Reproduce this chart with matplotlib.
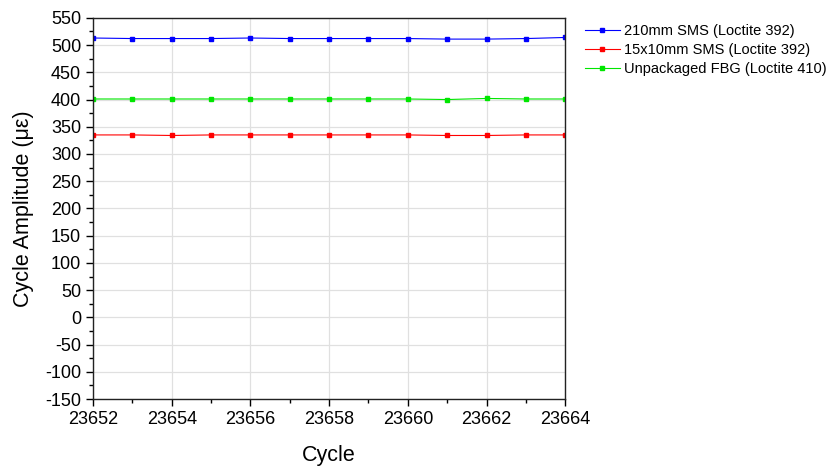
import matplotlib
matplotlib.use('Agg')
import matplotlib.pyplot as plt
import numpy as np
from matplotlib.ticker import MultipleLocator

plt.rcParams['font.family'] = ['Liberation Sans', 'DejaVu Sans']
plt.rcParams['axes.unicode_minus'] = False

cycles = np.arange(23652, 23665)
sms_210 = [513, 512, 512, 512, 513, 512, 512, 512, 512, 511, 511, 512, 514]
sms_15x10 = [335, 335, 334, 335, 335, 335, 335, 335, 335, 334, 334, 335, 335]
fbg_unpackaged = [401, 401, 401, 401, 401, 401, 401, 401, 401, 400, 402, 401, 401]

labels = ['210mm SMS (Loctite 392)', '15x10mm SMS (Loctite 392)',
          'Unpackaged FBG (Loctite 410)']
colors = ['#0000ff', '#ff0000', '#00e600']

fig = plt.figure(figsize=(8.27, 4.70), dpi=100)
ax = fig.add_axes([0.1125, 0.151, 0.571, 0.811])

for vals, lab, c in zip([sms_210, sms_15x10, fbg_unpackaged], labels, colors):
    ax.plot(cycles, vals, color=c, linewidth=0.8, marker='s', markersize=3.5,
            markerfacecolor=c, markeredgecolor=c, label=lab)

ax.set_xlim(23652, 23664)
ax.set_ylim(-150, 550)
ax.xaxis.set_major_locator(MultipleLocator(2))
ax.xaxis.set_minor_locator(MultipleLocator(1))
ax.yaxis.set_major_locator(MultipleLocator(50))
ax.yaxis.set_minor_locator(MultipleLocator(25))
ax.grid(True, which='major', color='#e0e0e0', linewidth=0.9)
ax.set_axisbelow(True)
ax.tick_params(which='major', length=5, width=1, labelsize=13, direction='out')
ax.tick_params(which='minor', length=3, width=1, direction='out')
ax.ticklabel_format(useOffset=False)
for s in ax.spines.values():
    s.set_linewidth(1.0)
    s.set_color('#222222')

ax.set_xlabel('Cycle', fontsize=15.5, labelpad=12)
ax.set_ylabel('Cycle Amplitude (\u03bc\u03b5)', fontsize=15.5, labelpad=8)

ax.legend(loc='upper left', bbox_to_anchor=(1.02, 1.01), frameon=False,
          fontsize=10.5, handlelength=2.4, handletextpad=0.3, labelspacing=0.35,
          borderaxespad=0.3)

plt.savefig('out.png', dpi=100)
plt.close()
